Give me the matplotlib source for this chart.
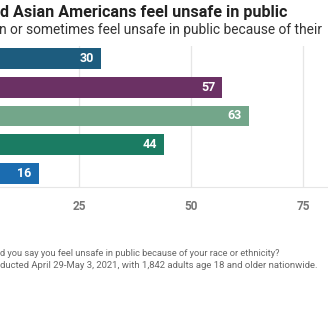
import matplotlib
matplotlib.use("Agg")
from matplotlib import pyplot as plt

# values (group labels sit outside the crop)
groups = ["Group 1", "Group 2", "Group 3", "Group 4", "Group 5"]
shares = [30, 57, 63, 44, 16]
bar_colors = ["#1d5c7e", "#6b3164", "#73a68a", "#1b7c63", "#1b6cb0"]
x_ticks = [25, 50, 75]

title = "d Asian Americans feel unsafe in public"
subtitle = "n or sometimes feel unsafe in public because of their"
note1 = "d you say you feel unsafe in public because of your race or ethnicity?"
note2 = "ducted April 29-May 3, 2021, with 1,842 adults age 18 and older nationwide."

plt.rcParams['font.family'] = ['Roboto', 'DejaVu Sans']

W = H = 328
fig = plt.figure(figsize=(3.28, 3.28), dpi=100)
fig.patch.set_facecolor("white")

# axes run off the left edge, like the cropped original
ax = fig.add_axes([-33 / W, (H - 187) / H, 448 / W, 141 / H])
ypos = list(range(len(groups)))
ax.barh(ypos, shares, height=0.72, color=bar_colors, zorder=3)
for y, v in zip(ypos, shares):
    ax.text(v - 1.6, y, str(v), color="white", fontsize=9, fontweight="bold",
            ha="right", va="center", zorder=4)

ax.set_xlim(0, 100)
ax.set_ylim(4.466, -0.431)
ax.set_xticks(x_ticks)
ax.set_yticks([])
ax.grid(axis="x", color="#e6e6e6", linewidth=0.9, zorder=0)
for s in ["top", "right", "left"]:
    ax.spines[s].set_visible(False)
ax.spines["bottom"].set_color("#e6e6e6")
ax.tick_params(axis="x", length=0, pad=9, labelsize=8.5, labelcolor="#777777")
for lbl in ax.get_xticklabels():
    lbl.set_fontweight("bold")

fig.text(0 / W, 1 - 12 / H, title, fontsize=11.6, fontweight="bold", color="#222222",
         ha="left", va="center")
fig.text(-1 / W, 1 - 30 / H, subtitle, fontsize=9.9, color="#333333",
         ha="left", va="center")
fig.text(0 / W, 1 - 254 / H, note1, fontsize=6.7, color="#666666", ha="left", va="center")
fig.text(0 / W, 1 - 265 / H, note2, fontsize=6.8, color="#666666", ha="left", va="center")

fig.savefig("out.png", dpi=100, facecolor="white")
